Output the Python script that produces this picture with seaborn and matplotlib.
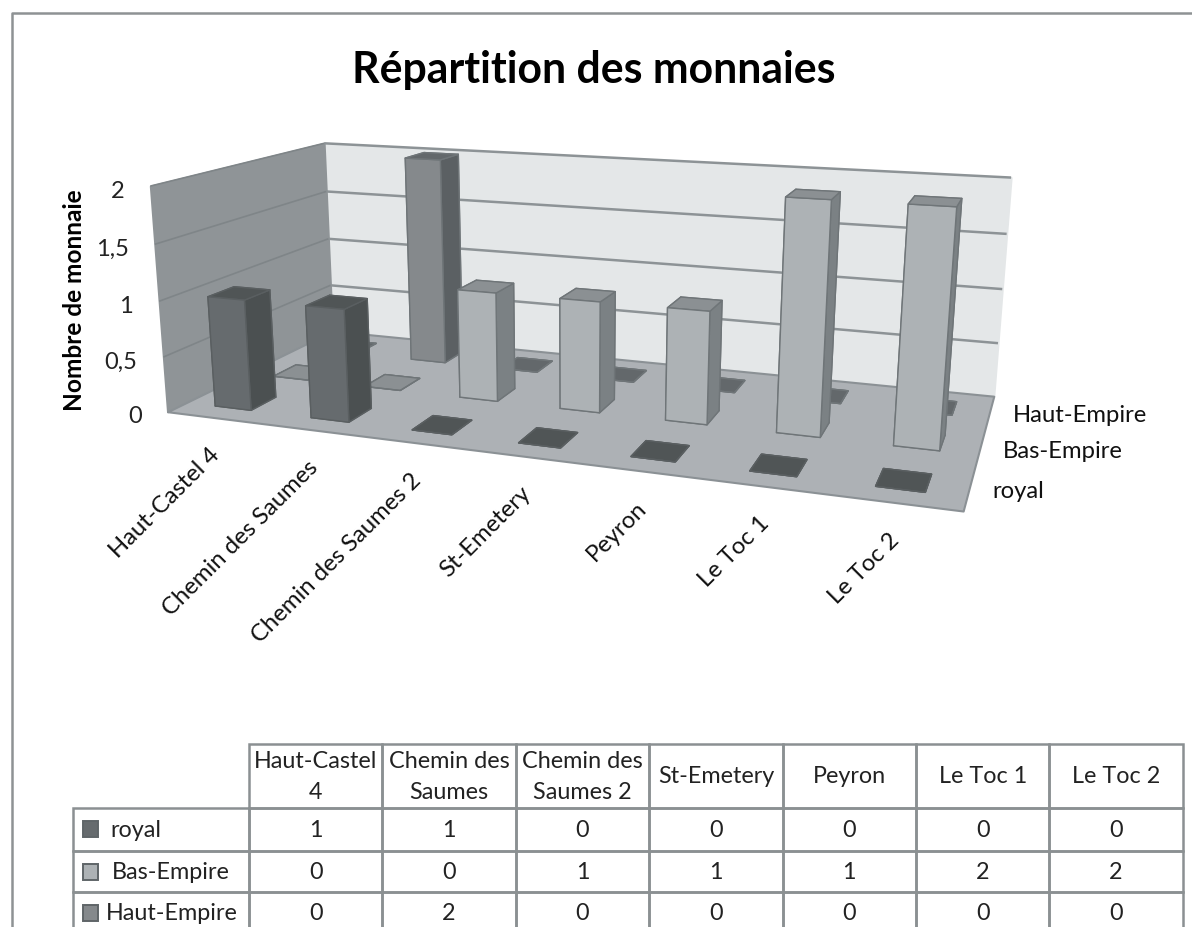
import numpy as np
import pandas as pd
import seaborn as sns
import matplotlib
matplotlib.use("Agg")
import matplotlib.pyplot as plt
from matplotlib.lines import Line2D
from matplotlib.patches import Rectangle
from mpl_toolkits.mplot3d.art3d import Poly3DCollection, Line3DCollection

# ---------- data ----------
categories = ["Haut-Castel 4", "Chemin des Saumes", "Chemin des Saumes 2",
              "St-Emetery", "Peyron", "Le Toc 1", "Le Toc 2"]
table_headers = ["Haut-Castel\n4", "Chemin des\nSaumes", "Chemin des\nSaumes 2",
                 "St-Emetery", "Peyron", "Le Toc 1", "Le Toc 2"]
series_names = ["royal", "Bas-Empire", "Haut-Empire"]
royal = [1, 1, 0, 0, 0, 0, 0]
bas_empire = [0, 0, 1, 1, 1, 2, 2]
haut_empire = [0, 2, 0, 0, 0, 0, 0]
value_ticks = [0, 0.5, 1, 1.5, 2]
value_labels = ["0", "0,5", "1", "1,5", "2"]
title = "Répartition des monnaies"
ylabel = "Nombre de monnaie"

front_colors = ["#666b6e", "#adb2b5", "#85898c"]
side_colors = ["#4b5051", "#7b8184", "#5b6063"]
top_colors = ["#505556", "#8b9093", "#63686b"]
edge_colors = ["#5a5f61", "#6f7578", "#6f7578"]

sns.set_theme(style="white")
plt.rcParams["font.family"] = ["Lato", "DejaVu Sans"]
palette = sns.color_palette(front_colors)

W, H = 1192, 928
df = pd.DataFrame({"royal": royal, "Bas-Empire": bas_empire, "Haut-Empire": haut_empire},
                  index=categories)
nx, ny = len(categories), len(series_names)

fig = plt.figure(figsize=(W / 100, H / 100), dpi=100, facecolor="white")
ax = fig.add_axes([0, 0, 1, 1], projection="3d")
ax.set_axis_off()
ax.patch.set_visible(False)
ax.computed_zorder = False
ax.apply_aspect = lambda position=None: None

# Camera: a projective map fitted to the box corners of the scene
world = np.array([[0, 0, 0], [0, 0, 2], [0, 3, 2], [0, 3, 0],
                  [7, 3, 2], [7, 3, 0], [7, 0, 0]], float)
screen = np.array([[168, 412], [150, 187], [324.5, 144], [332, 333],
                   [1011, 179], [994, 396], [963, 513]], float)
rows = []
for (X, Y, Z), (u, v) in zip(world, screen):
    rows.append([X, Y, Z, 1, 0, 0, 0, 0, -u * X, -u * Y, -u * Z, -u])
    rows.append([0, 0, 0, 0, X, Y, Z, 1, -v * X, -v * Y, -v * Z, -v])
P = np.linalg.svd(np.array(rows))[2][-1].reshape(3, 4)
P = P / (P[2] @ np.array([3.5, 1.5, 1, 1]))


def camera():
    vl = ax.viewLim
    sx = (vl.x1 - vl.x0) / W
    sy = (vl.y1 - vl.y0) / H
    M = np.zeros((4, 4))
    M[0] = sx * P[0] + vl.x0 * P[2]
    M[1] = -sy * P[1] + vl.y1 * P[2]
    M[2] = [-0.2, 1.0, -0.25, 0.0]
    M[3] = P[2]
    return M


ax.get_proj = camera


def to_px(x, y, z):
    h = P @ np.array([x, y, z, 1.0])
    return h[0] / h[2], h[1] / h[2]


# walls and floor
wall_left = [(0, 0, 0), (0, 3, 0), (0, 3, 2), (0, 0, 2)]
wall_back = [(0, 3, 0), (7, 3, 0), (7, 3, 2), (0, 3, 2)]
floor = [(0, 0, 0), (7, 0, 0), (7, 3, 0), (0, 3, 0)]
for poly, fc, ec, zo in [(wall_back, "#e4e7e8", "#e4e7e8", 1), (wall_left, "#8f9497", "#8f9497", 1),
                         (floor, "#adb1b5", "#8b9195", 3)]:
    ax.add_collection3d(Poly3DCollection([poly], facecolors=fc, edgecolors=ec, linewidths=1.5, zorder=zo))
back_grid = [[(0, 3, z), (7, 3, z)] for z in value_ticks[1:]]
left_grid = [[(0, 0, z), (0, 3, z)] for z in value_ticks[1:]]
ax.add_collection3d(Line3DCollection(back_grid, colors="#8d9396", linewidths=1.8, zorder=2))
ax.add_collection3d(Line3DCollection(left_grid, colors="#7f8588", linewidths=1.2, zorder=2))

# bars
bw, bd = 0.38, 0.42
for j in range(ny - 1, -1, -1):
    values = df[series_names[j]].to_numpy()
    for i in range(nx):
        face = [top_colors[j], top_colors[j], palette[j], palette[j], side_colors[j], side_colors[j]]
        ax.bar3d(i + 0.5 - bw / 2, j + 0.5 - bd / 2, 0, bw, bd, values[i], color=face, shade=False,
                 edgecolor=edge_colors[j], linewidth=1.0,
                 zorder=10 + (ny - j) * 20 + i)

# overlay: frame, title, axis label, scene labels, data table
ov = fig.add_axes([0, 0, 1, 1], facecolor="none")
ov.set_xlim(0, W)
ov.set_ylim(H, 0)
ov.axis("off")
ov.add_line(Line2D([12, 12, W], [H, 14, 14], color="#8e9294", lw=1.8))
ov.text(594, 70, title, ha="center", va="center", fontsize=30.8, fontweight="bold", color="black")
ov.text(75, 300, ylabel, rotation=90, ha="center", va="center", fontsize=17.6, fontweight="bold", color="black")

for z, lab in zip(value_ticks, value_labels):
    px, py = to_px(0, 0, z)
    ov.text(px - 26, py + 4, lab, ha="right", va="center", fontsize=17, color="#222222")
for i, c in enumerate(categories):
    px, py = to_px(i + 0.5, 0, 0)
    ov.text(px + 1, py + 33, c, rotation=45, rotation_mode="anchor", ha="right", va="center",
            fontsize=17.2, color="#111111")
for j, s in enumerate(series_names):
    px, py = to_px(7, j + 0.5, 0)
    ov.text(px + 23, py + 3, s, ha="left", va="center", fontsize=17.2, color="#111111")

cell_text = [[""] + table_headers]
for s in series_names:
    cell_text.append([s] + [str(v) for v in df[s]])
col_w = [176] + [133.4] * nx
row_h = [64, 43, 41, 41]
tbl = ov.table(cellText=cell_text, cellLoc="center",
               bbox=[73 / W, 1 - 934 / H, sum(col_w) / W, sum(row_h) / H])
tbl.auto_set_font_size(False)
tbl.set_fontsize(16.8)
pads = [(110 - 73) / 176, (112 - 73) / 176, (106 - 73) / 176]
for (r, c), cell in tbl.get_celld().items():
    cell.set_width(col_w[c])
    cell.set_height(row_h[r])
    cell.set_edgecolor("#8b9092")
    cell.set_linewidth(1.8)
    cell.set_facecolor("none")
    cell.get_text().set_color("#222222")
    cell.get_text().set_linespacing(1.55)
    if r == 0 and c == 0:
        cell.visible_edges = "open"
    if r > 0 and c == 0:
        cell.PAD = pads[r - 1]
        cell.get_text().set_ha("left")
key_y = [830, 872.5, 913.5]
for j, y in enumerate(key_y):
    ov.add_patch(Rectangle((83, y - 8), 15, 16, facecolor=front_colors[j], edgecolor="#5f6568", lw=1.4))

fig.savefig("out.png", dpi=100, facecolor="white")
